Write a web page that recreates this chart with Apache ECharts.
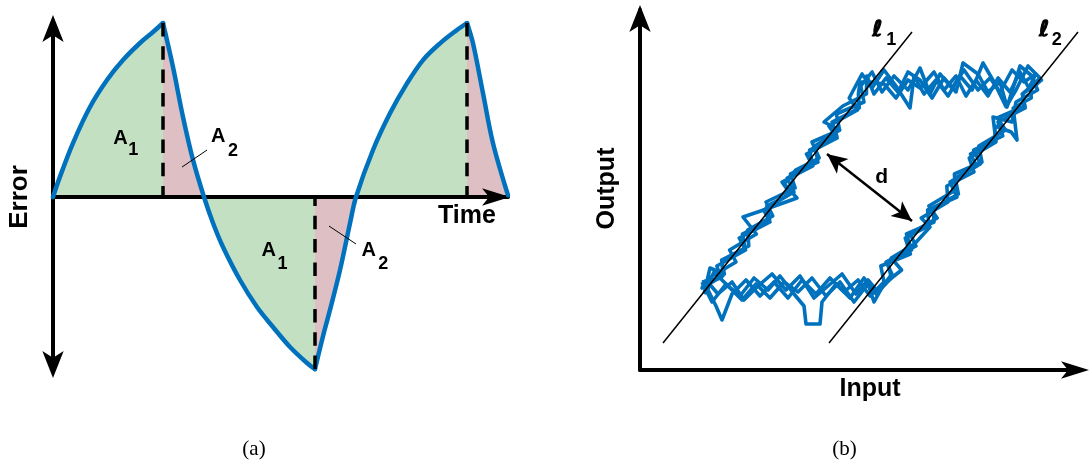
<!DOCTYPE html>
<html>
<head>
<meta charset="utf-8">
<script src="https://cdn.jsdelivr.net/npm/echarts@6/dist/echarts.min.js"></script>
<style>
  html, body { margin: 0; padding: 0; background: #fff; }
  #chart { width: 1089px; height: 464px; }
</style>
</head>
<body>
<div id="chart"></div>
<script>
// ---- (a) error vs time ----
const errTime = [0, 0.7, 2.0, 3.7, 5.4, 7.0, 8.7, 10.0, 11.0, 12.0, 13.0, 14.0, 15.1,
  16.0, 17.0, 18.7, 20.4, 22.0, 23.7, 25.4, 26.2, 27.0, 27.7, 28.7, 29.7, 30.3,
  32.0, 33.7, 35.4, 37.0, 38.7, 40.4, 41.4, 42.0, 43.0, 44.0, 45.5]
const errValue = [0, 0.117, 0.31, 0.517, 0.672, 0.787, 0.885, 0.948, 1.0, 0.747, 0.46, 0.213, 0,
  -0.149, -0.287, -0.477, -0.632, -0.747, -0.862, -0.954, -0.989, -0.8, -0.649, -0.42, -0.151, 0,
  0.27, 0.481, 0.653, 0.787, 0.883, 0.96, 1.0, 0.883, 0.596, 0.309, 0.01]
// area colour changes at peaks/trough and zero crossings
const fillBreaks = [0, 11.0, 15.1, 26.2, 30.3, 41.4, 45.5]
// sharp corners of the curve
const cornerTimes = [0, 11.0, 26.2, 41.4, 45.5]
const dashTimes = [11.0, 26.2, 41.4]
// leader lines for the A2 labels: [t0, e0, t1, e1]
const leaders = [[12.9, 0.172, 15.4, 0.27], [27.6, -0.167, 30.3, -0.27]]

// ---- (b) output vs input ----
const l1Input = [5.75, 68], l1Output = [6.75, 84.5]
const l2Input = [47.25, 109.5], l2Output = [6.75, 84.5]
const dArrow = [[46.75, 54], [68, 37.25]]

const loopA = [
  [15.5,22],[18,17],[21.5,21.5],[25,18.5],[28.5,23],[32,20],[35,23.5],[38.5,19],[41,16],[41.5,11.5],[45,11.5],[45.5,17],[49,21.5],[52.5,18],[56,23],[59,19],
  [63,24],[61.5,27],[69,31],[67.5,34],[74.3,38],[72.2,41],[78.9,45],[78.6,49],[85.5,52],[84.7,56],[91.4,60],[89.3,63],[96.2,66],[95.6,69],[100,73],
  [97,76],[94,70],[91.5,65.8],[88.5,72],[85.75,76.75],[83,70],[80,73.5],[77,68.5],[74,72.5],[71,69],[68.5,73.5],[67.5,65.5],[64,71],[61,75],[58,70.5],
  [55.5,74],[52.3,68],[54.4,65],[47.2,61],[49.3,58],[41.6,54],[43.2,51],[35.5,47],[37.6,44],[30.9,40],[32.5,37],[24.8,33],[26.4,30],[19.2,26],[20.3,23],[15.5,22]
]
const loopB = [
  [17,20],[19,16],[20.5,12.5],[23,19],[26.5,22.5],[30,18.5],[33.5,22],[37,18],[40.5,22.5],[44,19],[47.5,23],[51,19.5],[54.5,22.5],[57.5,18.5],
  [61,22],[60.2,26],[67.6,29],[66.3,33],[72.2,36],[71.9,40],[79.25,43.25],[77.5,47],[84.2,51],[82.6,54],[88.9,57.5],[88.7,61],[92.8,59.5],[94.25,57.5],[93.3,65.5],[97.8,68],[97.7,71.5],
  [99,74],[96,72],[93,75],[90,69.5],[87.5,73],[84.5,70],[81,75],[78,70.5],[75,74],[72.5,69],[70,75.5],[67,70],[63.5,73.5],[60.5,69.5],[58,74.5],
  [55.2,71],[56,67],[49.1,64],[49.9,60],[43,57],[44.8,53],[38.9,50],[36.1,46.5],[39.25,43],[30.9,40],[25.75,38.25],[29.1,34],[22.4,30],[24,27],[17.3,23],[17,20]
]
const loopC = [
  [16,19],[18.5,24.5],[22,21],[25.5,17.5],[29,21.5],[32.5,18],[36,22],[39.5,19.5],[43,23],[46.5,18.5],[50,22],[53.5,17],[57,21.5],[58.5,17],
  [61,21.5],[65.4,25],[62.8,28],[68.6,31.5],[72.5,35.75],[70.3,38],[77,42],[76.7,46],[83.5,49.5],[82.3,53],[89,57],[88.25,63.25],[93,62],[94,67],[99.4,70],
  [98,73.5],[95,76],[91.75,65.75],[90,72],[87,69.5],[84.5,74],[80.75,76.75],[79,69.5],[76,73],[73,68],[70,72.5],[67,74.5],[64.5,69.5],[61.5,73],[58.5,69],
  [56.7,73.5],[56.6,69],[50.7,66],[46,62],[49.9,60],[43.7,56],[44.5,52],[37.6,49],[38.8,45.5],[31.5,42],[33.2,38.5],[26.9,35],[27.2,31],[20.4,27.5],[21.1,24],[17.5,25.5],[16,19]
]
const loopD = [
  [16.5,22.5],[19.5,19],[23,22],[26,17.5],[29.5,21],[33,24],[36.5,20],[40,23.5],[43.5,18],[47,21],[50.5,24],[54,19],[57,22.5],[59.5,19.5],
  [62.8,23],[62,27],[67.9,30],[66.6,34],[73.5,37],[73.3,40.5],[79.6,44],[78.8,48],[85.1,51.5],[83.4,55],[90.7,58.5],[89.5,62],[96.3,65.5],[95.6,69],[100.4,72.5],
  [97.5,70],[95,74.5],[92.5,69.5],[89.5,73],[87,68.5],[84,72.5],[81.5,68.5],[79,73.5],[76,70],[73.5,74.5],[70,70.5],[67,72.5],[64,68],[61,71.5],[57.5,72],
  [55,72],[54.6,69],[54.8,65.5],[48,62],[49.2,58.5],[42.4,55],[43.1,51.5],[36.8,48],[38.5,44.5],[31.7,41],[32.4,37.5],[25.6,34],[26.3,30.5],[20.5,27],[20.7,23.5],[15.5,20.5],[16.5,22.5]
]

const BLUE = '#0072BD'
const GREEN = '#C3E0C3'
const PINK = '#DEBFC3'
const SANS = '"Liberation Sans", Arial, sans-serif'
const SERIF = '"Liberation Serif", "Times New Roman", serif'

function piece(t0, t1) {
  const out = []
  errTime.forEach((t, i) => {
    if (t >= t0 - 1e-9 && t <= t1 + 1e-9) out.push([t, errValue[i]])
  })
  return out
}
function valueAt(t) {
  return errValue[errTime.indexOf(t)]
}

const series = []

// coloured areas under the error curve
for (let i = 0; i < fillBreaks.length - 1; i++) {
  series.push({
    type: 'line', xAxisIndex: 0, yAxisIndex: 0, z: 1, silent: true,
    data: piece(fillBreaks[i], fillBreaks[i + 1]),
    smooth: 0.35, showSymbol: false,
    lineStyle: { opacity: 0 },
    areaStyle: { color: i % 2 === 0 ? GREEN : PINK, opacity: 1 },
  })
}
// blue error curve
for (let i = 0; i < cornerTimes.length - 1; i++) {
  series.push({
    type: 'line', xAxisIndex: 0, yAxisIndex: 0, z: 4, silent: true,
    data: piece(cornerTimes[i], cornerTimes[i + 1]),
    smooth: 0.35, showSymbol: false,
    lineStyle: { color: BLUE, width: 4.5, cap: 'round' },
  })
}
// dashed verticals + leader lines
series.push({
  type: 'line', xAxisIndex: 0, yAxisIndex: 0, z: 3, silent: true, data: [],
  markLine: {
    silent: true, symbol: ['none', 'none'], animation: false,
    label: { show: false },
    data: dashTimes.map(t => [
      { coord: [t, valueAt(t)], lineStyle: { color: '#000', width: 3.5, type: [13.5, 9.8] } },
      { coord: [t, 0] },
    ]).concat(leaders.map(l => [
      { coord: [l[0], l[1]], lineStyle: { color: '#000', width: 1, type: 'solid' } },
      { coord: [l[2], l[3]] },
    ])),
  },
})

// noisy hysteresis traces
;[loopA, loopB, loopC, loopD].forEach(loop => {
  series.push({
    type: 'line', xAxisIndex: 1, yAxisIndex: 1, z: 3, silent: true,
    data: loop, showSymbol: false,
    lineStyle: { color: BLUE, width: 3.6, join: 'round' },
  })
})
// l1, l2 and the d arrow
series.push({
  type: 'line', xAxisIndex: 1, yAxisIndex: 1, z: 5, silent: true, showSymbol: false,
  data: l1Input.map((x, i) => [x, l1Output[i]]),
  lineStyle: { color: '#000', width: 1.5 },
  markLine: {
    silent: true, animation: false,
    symbol: ['arrow', 'arrow'], symbolSize: [14, 20],
    label: { show: false },
    lineStyle: { color: '#000', width: 2.5, type: 'solid' },
    data: [[{ coord: dArrow[0] }, { coord: dArrow[1] }]],
  },
})
series.push({
  type: 'line', xAxisIndex: 1, yAxisIndex: 1, z: 5, silent: true, showSymbol: false,
  data: l2Input.map((x, i) => [x, l2Output[i]]),
  lineStyle: { color: '#000', width: 1.5 },
})

function axis(extra) {
  return Object.assign({
    type: 'value', z: 2,
    axisTick: { show: false }, axisLabel: { show: false }, splitLine: { show: false },
  }, extra)
}
function text(x, y, str, font, rotation, strokeW) {
  const style = { text: str, font, fill: '#000', textAlign: 'center', textVerticalAlign: 'middle' }
  if (strokeW) { style.stroke = '#000'; style.lineWidth = strokeW }
  return { type: 'text', x, y, rotation: rotation || 0, silent: true, z: 10, style }
}
const bold = (px, fam) => 'bold ' + px + 'px ' + (fam || SANS)
const ELL = '"DejaVu Sans", "Noto Sans", sans-serif'

const chart = echarts.init(document.getElementById('chart'), null, { renderer: 'canvas' })
chart.setOption({
  backgroundColor: '#fff',
  animation: false,
  grid: [
    { left: 53, top: 23, width: 455, height: 348 },
    { left: 640, top: 10, width: 440, height: 360 },
  ],
  xAxis: [
    axis({ gridIndex: 0, min: 0, max: 45.5,
      axisLine: { show: true, onZero: true, lineStyle: { color: '#000', width: 4 },
        symbol: ['none', 'arrow'], symbolSize: [13, 28], symbolOffset: [0, 2] } }),
    axis({ gridIndex: 1, min: 0, max: 110,
      axisLine: { show: true, onZero: true, lineStyle: { color: '#000', width: 4 },
        symbol: ['none', 'arrow'], symbolSize: [13, 28], symbolOffset: [0, 9] } }),
  ],
  yAxis: [
    axis({ gridIndex: 0, min: -1, max: 1,
      axisLine: { show: true, onZero: false, lineStyle: { color: '#000', width: 4 },
        symbol: ['arrow', 'arrow'], symbolSize: [16, 27], symbolOffset: [-7, 8] } }),
    axis({ gridIndex: 1, min: 0, max: 90,
      axisLine: { show: true, onZero: false, lineStyle: { color: '#000', width: 4 },
        symbol: ['none', 'arrow'], symbolSize: [16, 27], symbolOffset: [0, 5] } }),
  ],
  series,
  graphic: [
    text(20, 197, 'Error', bold(26), Math.PI / 2),
    text(467, 216, 'Time', bold(25)),
    text(120.5, 138.5, 'A', bold(20)), text(133.3, 149.7, '1', bold(18)),
    text(218.3, 136.7, 'A', bold(20)), text(233, 150.8, '2', bold(18)),
    text(268.7, 250.8, 'A', bold(20)), text(282.5, 263.7, '1', bold(18)),
    text(368.7, 250.3, 'A', bold(20)), text(383.3, 263.7, '2', bold(18)),
    text(607, 188.5, 'Output', bold(25), Math.PI / 2),
    text(870, 389, 'Input', bold(25)),
    text(877.5, 30.5, 'ℓ', bold(22, ELL), 0, 1), text(891.3, 40, '1', bold(18)),
    text(1044.2, 30.5, 'ℓ', bold(22, ELL), 0, 1), text(1056.7, 40, '2', bold(18)),
    text(881.7, 177.5, 'd', bold(21)),
    text(254, 449, '(a)', '21px ' + SERIF),
    text(844.5, 449, '(b)', '21px ' + SERIF),
  ],
})
</script>
</body>
</html>
